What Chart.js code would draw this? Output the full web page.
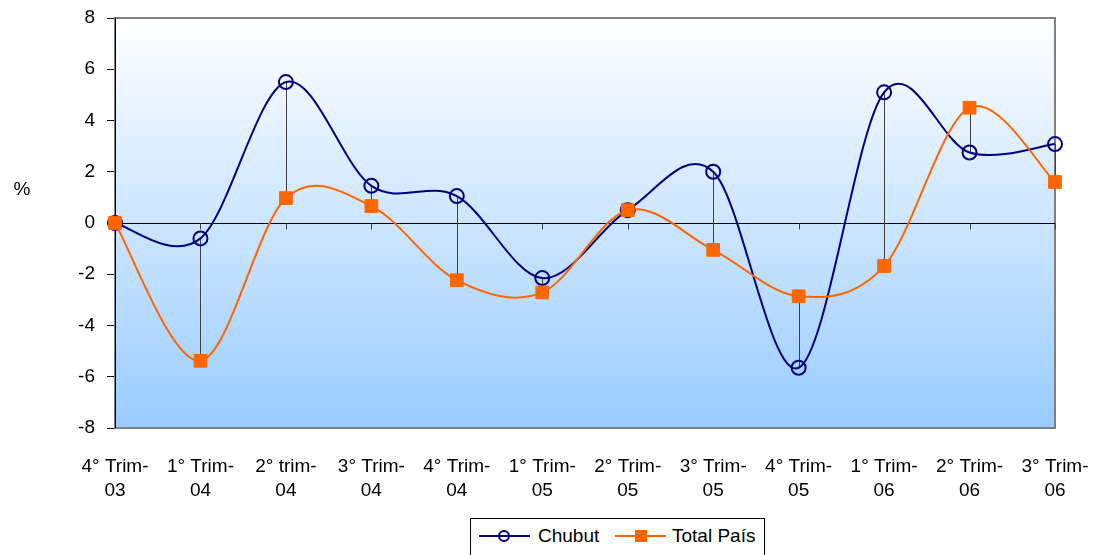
<!DOCTYPE html>
<html>
<head>
<meta charset="utf-8">
<script src="https://cdn.jsdelivr.net/npm/chart.js@4.4.1/dist/chart.umd.min.js"></script>
<style>
  html, body { margin:0; padding:0; background:#fff; }
  #wrap { position:relative; width:1096px; height:555px; overflow:hidden; font-family:"Liberation Sans", Arial, sans-serif; }
  #legend { position:absolute; left:470px; top:518px; width:295px; height:45px; border:1px solid #000; background:#fff; box-sizing:border-box; }
  .item { position:absolute; top:6px; height:22px; font-size:19px; line-height:22px; color:#000; white-space:nowrap; }
  .item svg { position:absolute; left:0; top:0; }
  .item span { position:absolute; top:0; }
</style>
</head>
<body>
<div id="wrap">
  <canvas id="c" width="1096" height="555"></canvas>
  <div id="legend">
    <div class="item" style="left:8px;">
      <svg width="52" height="22"><line x1="0" y1="11" x2="51" y2="11" stroke="#000080" stroke-width="2"/><circle cx="25" cy="11" r="5" fill="none" stroke="#000080" stroke-width="2"/></svg>
      <span style="left:59px;">Chubut</span>
    </div>
    <div class="item" style="left:144px;">
      <svg width="52" height="22"><line x1="0" y1="11" x2="51" y2="11" stroke="#FF6600" stroke-width="2"/><rect x="20" y="5" width="12" height="12" fill="#FF6600"/></svg>
      <span style="left:57px;">Total País</span>
    </div>
  </div>
</div>
<script>
const categories = [
  ["4° Trim-","03"], ["1° Trim-","04"], ["2° trim-","04"], ["3° Trim-","04"],
  ["4° Trim-","04"], ["1° Trim-","05"], ["2° Trim-","05"], ["3° Trim-","05"],
  ["4° Trim-","05"], ["1° Trim-","06"], ["2° Trim-","06"], ["3° Trim-","06"]
];
const chubut    = [0, -0.6, 5.5, 1.45, 1.05, -2.15, 0.5, 2.0, -5.65, 5.1, 2.75, 3.08];
const totalPais = [0, -5.38, 0.97, 0.66, -2.23, -2.71, 0.5, -1.05, -2.86, -1.68, 4.5, 1.6];
const yTicks = [-8, -6, -4, -2, 0, 2, 4, 6, 8];
const yUnit = "%";

const FONT = "'Liberation Sans', Arial, sans-serif";
const SMOOTH = 1 / 6; // Excel-like (Catmull-Rom) smoothing factor

function excelSmooth(chart) {
  chart.data.datasets.forEach((ds, di) => {
    const meta = chart.getDatasetMeta(di);
    const line = meta.dataset;
    if (!line) return;
    line.updateControlPoints(chart.chartArea, 'x');
    const pts = meta.data;
    const n = pts.length;
    for (let i = 0; i < n; i++) {
      const p = pts[i];
      const prev = pts[Math.max(i - 1, 0)];
      const next = pts[Math.min(i + 1, n - 1)];
      const dx = (next.x - prev.x) * SMOOTH;
      const dy = (next.y - prev.y) * SMOOTH;
      p.cp1x = p.x - dx; p.cp1y = p.y - dy;
      p.cp2x = p.x + dx; p.cp2y = p.y + dy;
    }
    line._path = undefined;
  });
}

const bgPlugin = {
  id: 'bg',
  beforeDraw(chart) {
    const {ctx, chartArea: a} = chart;
    const g = ctx.createLinearGradient(0, a.top, 0, a.bottom);
    g.addColorStop(0, '#FFFFFF');
    g.addColorStop(1, '#99CCFF');
    ctx.save();
    ctx.fillStyle = g;
    ctx.fillRect(a.left, a.top, a.right - a.left, a.bottom - a.top);
    ctx.restore();
  },
  beforeDatasetsDraw(chart) {
    excelSmooth(chart);
    const {ctx, chartArea: a, scales} = chart;
    ctx.save();
    ctx.strokeStyle = '#808080';
    ctx.lineWidth = 2;
    ctx.strokeRect(a.left, a.top, a.right - a.left, a.bottom - a.top);
    ctx.strokeStyle = '#000';
    ctx.lineWidth = 1;
    ctx.beginPath();
    ctx.moveTo(a.left + 0.5, a.top);
    ctx.lineTo(a.left + 0.5, a.bottom);
    ctx.stroke();
    const y0 = Math.round(scales.y.getPixelForValue(0)) + 0.5;
    ctx.beginPath();
    ctx.moveTo(a.left, y0);
    ctx.lineTo(a.right, y0);
    ctx.stroke();
    ctx.strokeStyle = '#404040';
    for (let i = 0; i < categories.length; i++) {
      const x = Math.round(scales.x.getPixelForValue(i)) + 0.5;
      ctx.beginPath();
      ctx.moveTo(x, y0);
      ctx.lineTo(x, y0 + 6);
      ctx.stroke();
    }
    const m0 = chart.getDatasetMeta(0).data;
    const m1 = chart.getDatasetMeta(1).data;
    ctx.strokeStyle = '#404040';
    ctx.lineWidth = 1;
    for (let i = 0; i < m0.length; i++) {
      const x = Math.round(m0[i].x) + 0.5;
      ctx.beginPath();
      ctx.moveTo(x, m0[i].y);
      ctx.lineTo(x, m1[i].y);
      ctx.stroke();
    }
    ctx.fillStyle = '#000';
    ctx.font = '19px ' + FONT;
    ctx.textAlign = 'center';
    ctx.textBaseline = 'middle';
    ctx.fillText(yUnit, 22, 190);
    ctx.restore();
  }
};

new Chart(document.getElementById('c'), {
  type: 'line',
  data: {
    labels: categories,
    datasets: [
      {
        label: 'Chubut',
        data: chubut,
        borderColor: '#000080',
        backgroundColor: 'rgba(0,0,0,0)',
        borderWidth: 2,
        pointStyle: 'circle',
        pointRadius: 7,
        pointBorderWidth: 2,
        pointBorderColor: '#000080',
        pointBackgroundColor: 'rgba(0,0,0,0)',
        tension: 0.4,
        order: 1
      },
      {
        label: 'Total País',
        data: totalPais,
        borderColor: '#FF6600',
        backgroundColor: '#FF6600',
        borderWidth: 2,
        pointStyle: 'rect',
        pointRadius: 9,
        pointBorderWidth: 1,
        pointBorderColor: '#FF6600',
        pointBackgroundColor: '#FF6600',
        tension: 0.4,
        order: 0
      }
    ]
  },
  options: {
    responsive: false,
    animation: false,
    devicePixelRatio: 1,
    layout: { padding: { top: 18, right: 41, bottom: 0, left: 0 } },
    plugins: { legend: { display: false }, tooltip: { enabled: false } },
    elements: { line: { capBezierPoints: false } },
    scales: {
      x: {
        offset: false,
        grid: { display: false, drawTicks: false },
        border: { display: false },
        ticks: { color: '#000', font: { family: FONT, size: 19, lineHeight: 1.26 }, padding: 27, maxRotation: 0, autoSkip: false },
        afterFit(s) { s.height = 127; s.paddingLeft = 0; s.paddingRight = 0; }
      },
      y: {
        min: -8, max: 8,
        afterBuildTicks(s) { s.ticks = yTicks.map(v => ({ value: v })); },
        grid: { drawOnChartArea: false, drawTicks: true, tickLength: 8, color: '#000' },
        border: { display: true, color: '#000' },
        ticks: { color: '#000', font: { family: FONT, size: 19 }, padding: 12 },
        afterFit(s) { s.width = 115; s.paddingTop = 0; s.paddingBottom = 0; }
      }
    }
  },
  plugins: [bgPlugin]
});
</script>
</body>
</html>
